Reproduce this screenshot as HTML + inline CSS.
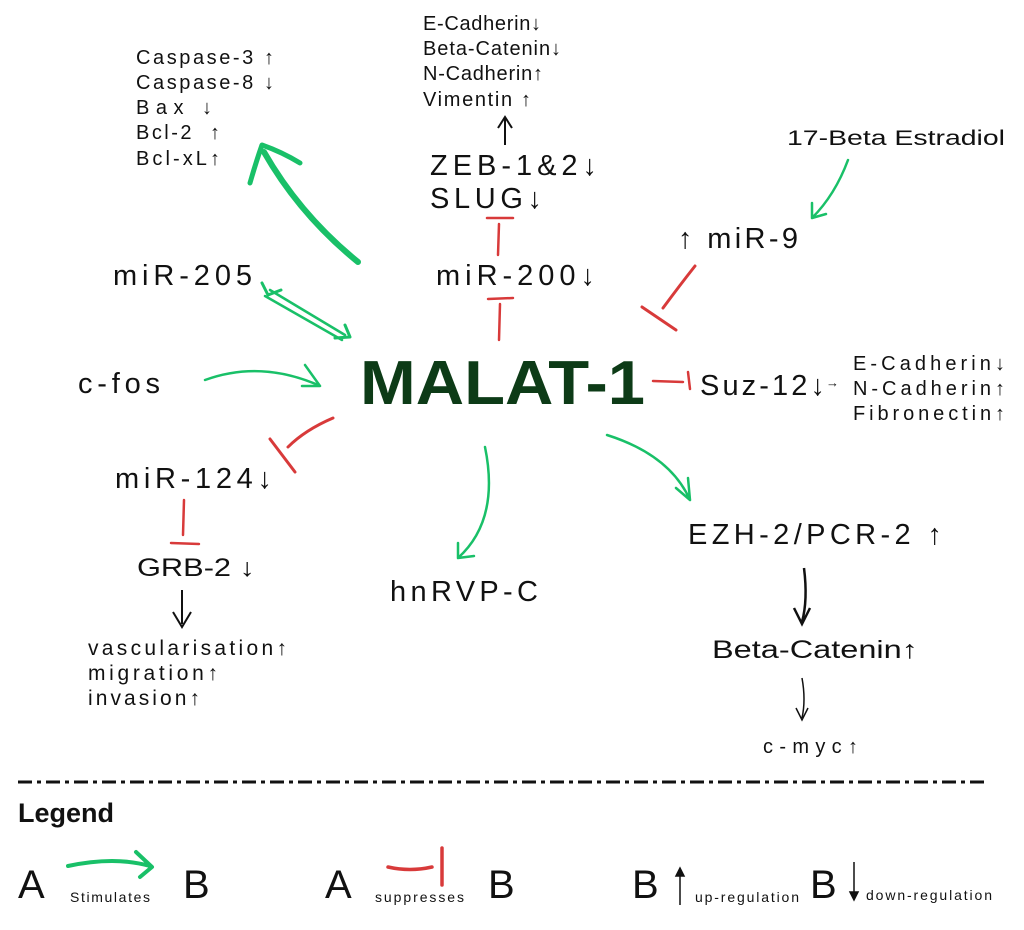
<!DOCTYPE html>
<html><head><meta charset="utf-8"><style>
html,body{margin:0;padding:0;background:#fff;}
svg{display:block;}
text{font-family:"Liberation Sans","DejaVu Sans",sans-serif;fill:#111;}
</style></head><body>
<svg width="1024" height="930" viewBox="0 0 1024 930" xmlns="http://www.w3.org/2000/svg">
<g font-size="20" lengthAdjust="spacingAndGlyphs">
<text x="136" y="64" textLength="138">Caspase-3 ↑</text>
<text x="136" y="89" textLength="138">Caspase-8 ↓</text>
<text x="136" y="114" textLength="76">Bax ↓</text>
<text x="136" y="139" textLength="84">Bcl-2 &#160;↑</text>
<text x="136" y="165" textLength="84">Bcl-xL↑</text>
<text x="423" y="30" textLength="118">E-Cadherin↓</text>
<text x="423" y="55" textLength="138">Beta-Catenin↓</text>
<text x="423" y="80" textLength="120">N-Cadherin↑</text>
<text x="423" y="106" textLength="108">Vimentin ↑</text>
<text x="853" y="370" textLength="152">E-Cadherin↓</text>
<text x="853" y="395" textLength="152">N-Cadherin↑</text>
<text x="853" y="420" textLength="152">Fibronectin↑</text>
<text x="763" y="753" textLength="95">c-myc↑</text>
</g>
<g font-size="29" lengthAdjust="spacingAndGlyphs">
<text x="430" y="175" textLength="167">ZEB-1&amp;2↓</text>
<text x="430" y="208" textLength="112">SLUG↓</text>
<text x="436" y="285" textLength="159">miR-200↓</text>
<text x="113" y="285" textLength="139">miR-205</text>
<text x="678" y="248" textLength="120">↑ miR-9</text>
<text x="700" y="395" textLength="125">Suz-12↓</text>
<text x="78" y="393" textLength="82">c-fos</text>
<text x="115" y="488" textLength="157">miR-124↓</text>
<text x="390" y="601" textLength="148">hnRVP-C</text>
<text x="688" y="544" textLength="254">EZH-2/PCR-2 ↑</text>
</g>
<text x="787" y="145" font-size="21" textLength="218" lengthAdjust="spacingAndGlyphs">17-Beta Estradiol</text>
<text x="137" y="576" font-size="25" textLength="118" lengthAdjust="spacingAndGlyphs">GRB-2 ↓</text>
<text x="712" y="658" font-size="25" textLength="206" lengthAdjust="spacingAndGlyphs">Beta-Catenin↑</text>
<g font-size="21" lengthAdjust="spacingAndGlyphs">
<text x="88" y="655" textLength="199">vascularisation↑</text>
<text x="88" y="680" textLength="130">migration↑</text>
<text x="88" y="705" textLength="112">invasion↑</text>
</g>
<text x="360" y="404" font-size="62" font-weight="bold" style="fill:#0d3b17" textLength="285" lengthAdjust="spacingAndGlyphs">MALAT-1</text>
<text x="826" y="387" font-size="13">→</text>

<g fill="none" stroke="#111" stroke-width="2">
<path d="M505 145 L505 118 M498 128 L505 117 L512 128"/>
<path d="M182 590 L182 624 M173 612 L182 627 L191 612"/>
<path d="M804 568 Q808 600 802 622 M794 608 L802 624 L810 608" stroke-width="2.5"/>
<path d="M802 678 Q806 700 802 718 M796 708 L802 720 L808 708" stroke-width="1.5"/>
</g>

<g fill="none" stroke="#19c068" stroke-linecap="round" stroke-linejoin="round">
<path d="M358 262 Q300 215 264 152" stroke-width="6"/>
<path d="M250 183 Q256 162 262 145 Q282 152 300 163" stroke-width="5"/>
<path d="M270 290 L345 335 M265 296 L342 340" stroke-width="2.5"/>
<path d="M262 283 L268 295 L281 290 M350 337 L345 325 M350 337 L335 338" stroke-width="3"/>
<path d="M205 380 Q260 360 318 385" stroke-width="2.5"/>
<path d="M305 365 L320 386 L302 386" stroke-width="2.5"/>
<path d="M848 160 Q835 195 812 218 M812 203 L812 218 L826 214" stroke-width="2.5"/>
<path d="M485 447 Q500 520 458 558 M458 543 L458 558 L474 556" stroke-width="2.5"/>
<path d="M607 435 Q670 455 690 500 M688 478 L690 500 M676 488 L690 500" stroke-width="2.5"/>
<path d="M68 866 Q115 856 150 866 M136 852 L152 867 L140 877" stroke-width="4"/>
</g>

<g fill="none" stroke="#d83a3a" stroke-width="2.5" stroke-linecap="round">
<path d="M499 224 L498 255 M487 218 L513 218"/>
<path d="M500 304 L499 340 M488 299 L513 298"/>
<path d="M695 266 Q680 285 663 308 M642 307 L676 330" stroke-width="3"/>
<path d="M653 381 L683 382 M688 372 L690 389"/>
<path d="M333 418 Q305 430 288 447 M270 439 L295 472" stroke-width="3"/>
<path d="M184 500 L183 535 M171 543 L199 544"/>
<path d="M388 867 Q410 872 432 867 M442 848 L442 885" stroke-width="3.5"/>
</g>

<line x1="18" y1="782" x2="985" y2="782" stroke="#111" stroke-width="3" stroke-dasharray="14 5 4 5"/>
<text x="18" y="822" font-size="27" font-weight="bold">Legend</text>
<g font-size="40">
<text x="18" y="898">A</text><text x="183" y="898">B</text>
<text x="325" y="898">A</text><text x="488" y="898">B</text>
<text x="632" y="898">B</text><text x="810" y="898">B</text>
</g>
<g font-size="14" lengthAdjust="spacingAndGlyphs">
<text x="70" y="902" textLength="80">Stimulates</text>
<text x="375" y="902" textLength="89">suppresses</text>
<text x="695" y="902" textLength="104">up-regulation</text>
<text x="866" y="900" textLength="126">down-regulation</text>
</g>
<g stroke="#111" stroke-width="1.5" fill="#111">
<line x1="680" y1="872" x2="680" y2="905"/><path d="M676 876 L680 868 L684 876Z"/>
<line x1="854" y1="862" x2="854" y2="896"/><path d="M850 892 L854 900 L858 892Z"/>
</g>
</svg>
</body></html>
